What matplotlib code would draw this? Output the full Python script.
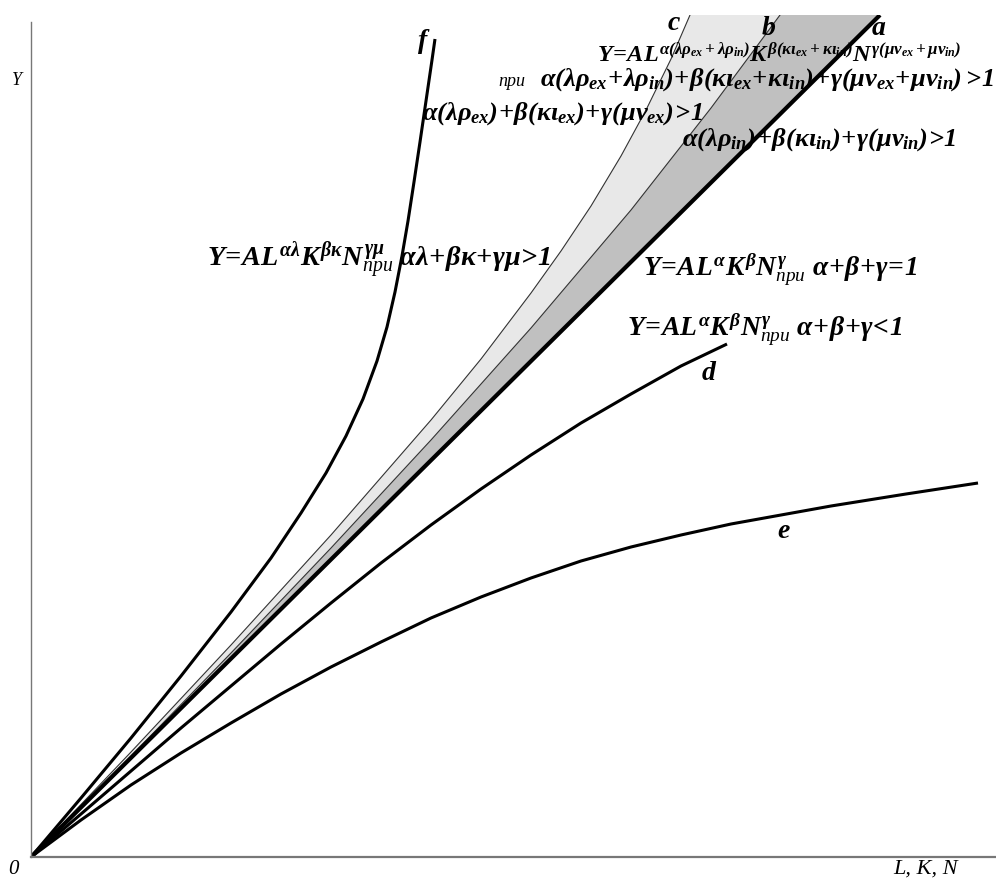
import numpy as np
import matplotlib
matplotlib.use('Agg')
import matplotlib.pyplot as plt

# curve points (x to the right, y up, origin at the 0 corner)
a_x = [0, 849]
a_y = [0, 842]
b_x = [0, 100, 200, 300, 400, 500, 600, 680, 749]
b_y = [0, 101, 204, 309, 417, 529, 647, 749, 842]
c_x = [0, 100, 200, 300, 400, 450, 500, 530, 560, 590, 615, 640, 659]
c_y = [0, 105, 212, 322, 437, 498, 564, 606, 651, 701, 747, 798, 842]
f_x = [0, 50, 100, 150, 200, 240, 270, 295, 315, 332, 346, 356, 364, 371, 377,
       383, 389, 395, 401, 404]
f_y = [0, 59, 119, 181, 245, 299, 344, 384, 421, 458, 496, 530, 565, 601, 636,
       675, 715, 756, 797, 818]
d_x = [0, 50, 100, 150, 200, 250, 300, 350, 400, 450, 500, 550, 600, 650, 696]
d_y = [0, 43, 86, 129, 171, 213, 254, 294, 332, 368, 402, 434, 463, 491, 513]
e_x = [0, 50, 100, 150, 200, 250, 300, 350, 400, 450, 500, 550, 600, 650, 700,
       750, 800, 875, 947]
e_y = [0, 37, 72, 104, 134, 163, 190, 215, 239, 260, 279, 296, 310, 322, 333,
       342, 351, 363, 374]

formula_abc = (r'$Y\!=\!AL^{\alpha(\lambda\rho_{ex}+\lambda\rho_{in})}'
               r'K^{\beta(\kappa\iota_{ex}+\kappa\iota_{in})}'
               r'N^{\gamma(\mu\nu_{ex}+\mu\nu_{in})}$')
cond_abc = (r'$\alpha(\lambda\rho_{ex}\!+\!\lambda\rho_{in})\!+\!\beta(\kappa\iota_{ex}\!+\!\kappa\iota_{in})'
            r'\!+\!\gamma(\mu\nu_{ex}\!+\!\mu\nu_{in})>\!1$')
cond_ex = r'$\alpha(\lambda\rho_{ex})\!+\!\beta(\kappa\iota_{ex})\!+\!\gamma(\mu\nu_{ex})\!>\!1$'
cond_in = r'$\alpha(\lambda\rho_{in})\!+\!\beta(\kappa\iota_{in})\!+\!\gamma(\mu\nu_{in})\!>\!1$'
formula_f = (r'$Y\!=\!AL^{\alpha\lambda}K^{\beta\kappa}N^{\gamma\mu}_{\mathsf{при}}\ '
             r'\alpha\lambda\!+\!\beta\kappa\!+\!\gamma\mu\!>\!1$')
formula_a = r'$Y\!=\!AL^{\alpha}K^{\beta}N^{\gamma}_{\mathsf{при}}\ \alpha\!+\!\beta\!+\!\gamma\!=\!1$'
formula_d = r'$Y\!=\!AL^{\alpha}K^{\beta}N^{\gamma}_{\mathsf{при}}\ \alpha\!+\!\beta\!+\!\gamma\!<\!1$'


def main():
    plt.rcParams['mathtext.fontset'] = 'custom'
    plt.rcParams['mathtext.rm'] = 'Liberation Serif:bold:italic'
    plt.rcParams['mathtext.it'] = 'Liberation Serif:bold:italic'
    plt.rcParams['mathtext.bf'] = 'Liberation Serif:bold:italic'
    plt.rcParams['mathtext.sf'] = 'Liberation Serif:italic'
    plt.rcParams['font.family'] = ['Liberation Serif', 'DejaVu Serif']

    fig = plt.figure(figsize=(9.96, 8.81), dpi=100)
    ax = fig.add_axes([31 / 996, 24 / 881, 965 / 996, 842 / 881])
    ax.set_xlim(0, 965)
    ax.set_ylim(0, 842)

    # shaded bands between c-b and b-a
    ax.fill(np.concatenate([c_x, b_x[::-1]]), np.concatenate([c_y, b_y[::-1]]),
            color='#e8e8e8', lw=0)
    ax.fill(np.concatenate([b_x, a_x[::-1]]), np.concatenate([b_y, a_y[::-1]]),
            color='#c0c0c0', lw=0)
    ax.plot(c_x, c_y, color='#333333', lw=0.8)
    ax.plot(b_x, b_y, color='#333333', lw=0.8)
    ax.plot(a_x, a_y, color='black', lw=3.0, solid_capstyle='butt')
    for xs, ys in [(f_x, f_y), (d_x, d_y), (e_x, e_y)]:
        ax.plot(xs, ys, color='black', lw=2.2, solid_capstyle='butt',
                solid_joinstyle='round')

    for s in ['top', 'right']:
        ax.spines[s].set_visible(False)
    ax.spines['left'].set_bounds(0, 835)
    ax.spines['left'].set_color('#777777')
    ax.spines['left'].set_linewidth(1.0)
    ax.spines['bottom'].set_color('#777777')
    ax.spines['bottom'].set_linewidth(1.6)
    ax.set_xticks([])
    ax.set_yticks([])

    kw = dict(ha='left', va='baseline', color='black')
    ax.text(566, 795, formula_abc, fontsize=17.5, **kw)
    ax.text(467, 771, 'при', fontsize=13, style='italic', **kw)
    ax.text(509, 771, cond_abc, fontsize=19, **kw)
    ax.text(391, 737, cond_ex, fontsize=19, **kw)
    ax.text(651, 711, cond_in, fontsize=19, **kw)
    ax.text(176, 590, formula_f, fontsize=20.3, **kw)
    ax.text(612, 582, formula_a, fontsize=19.8, **kw)
    ax.text(596, 522, formula_d, fontsize=19.9, **kw)

    for lab, x, y in [('f', 387, 809), ('c', 637, 827), ('b', 731, 822),
                      ('a', 841, 822), ('d', 671, 477), ('e', 746, 319)]:
        ax.text(x, y, lab, fontsize=20, style='italic', weight='bold', **kw)

    ax.text(-19, 772, 'Y', fontsize=13, style='italic', **kw)
    ax.text(-23, -17, '0', fontsize=15, style='italic', **kw)
    ax.text(862, -17, 'L, K, N', fontsize=16, style='italic', **kw)

    fig.savefig('out.png', dpi=100)


if __name__ == '__main__':
    main()
